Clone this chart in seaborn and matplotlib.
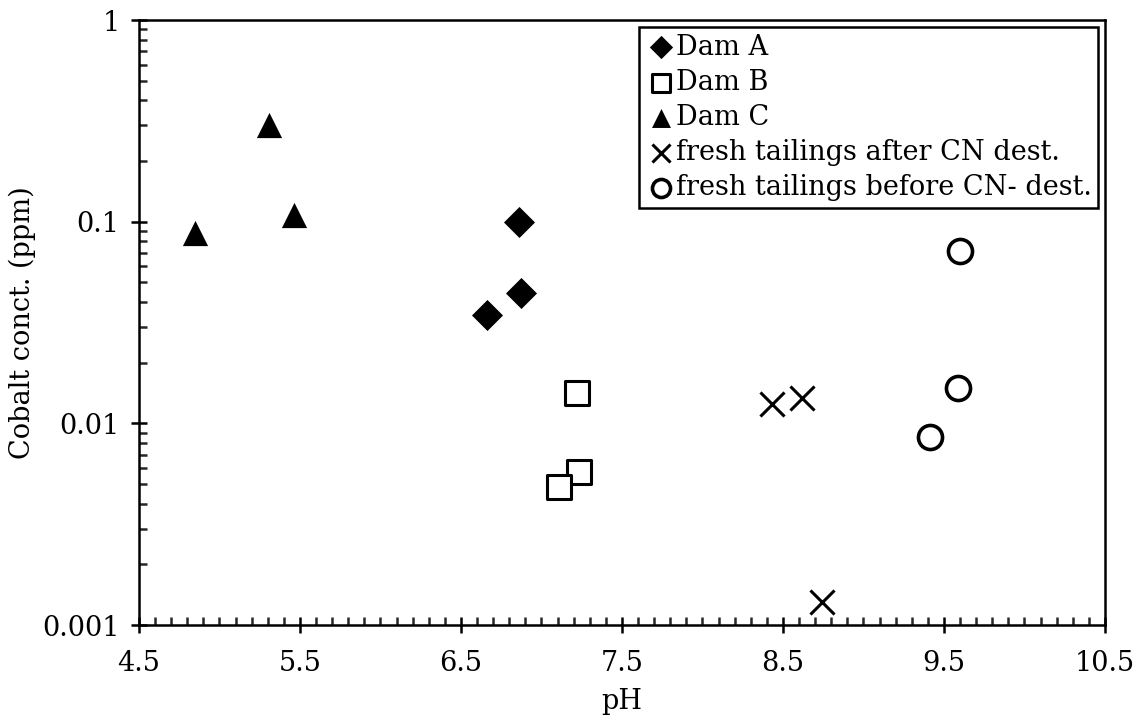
import matplotlib
matplotlib.use("Agg")
import matplotlib.pyplot as plt
import matplotlib.ticker as mticker
import seaborn as sns
import pandas as pd

sns.set_theme(style="white")
plt.rcParams["font.family"] = ["DejaVu Serif"]
plt.rcParams["text.color"] = "black"

# ----------------------------
# Data
# ----------------------------
dam_a_ph = [6.66, 6.86, 6.87]
dam_a_co = [0.0344, 0.0997, 0.0443]

dam_b_ph = [7.22, 7.23, 7.11]
dam_b_co = [0.01415, 0.00574, 0.00484]

dam_c_ph = [5.31, 5.46, 4.85]
dam_c_co = [0.302, 0.108, 0.0879]

after_ph = [8.43, 8.62, 8.74]
after_co = [0.01248, 0.01336, 0.0013]

before_ph = [9.59, 9.41, 9.60]
before_co = [0.0150, 0.00857, 0.0716]

series = [
    ("Dam A", dam_a_ph, dam_a_co),
    ("Dam B", dam_b_ph, dam_b_co),
    ("Dam C", dam_c_ph, dam_c_co),
    ("fresh tailings after CN dest.", after_ph, after_co),
    ("fresh tailings before CN- dest.", before_ph, before_co),
]

# marker styles per series
styles = {
    "Dam A": dict(marker="D", s=250, color="black", edgecolor="black", linewidth=0),
    "Dam B": dict(marker="s", s=300, facecolor="white", edgecolor="black", linewidth=2.2),
    "Dam C": dict(marker="^", s=330, color="black", edgecolor="black", linewidth=0),
    "fresh tailings after CN dest.": dict(marker="x", s=300, color="black", linewidth=2.2),
    "fresh tailings before CN- dest.": dict(marker="o", s=300, facecolor="white", edgecolor="black", linewidth=2.6),
}

FS = 19.5

# ----------------------------
# Plot
# ----------------------------
fig = plt.figure(figsize=(11.42, 7.23), dpi=100)
ax = fig.add_axes([0.1217, 0.1355, 0.8459, 0.8368])

for name, ph, co in series:
    df = pd.DataFrame({"pH": ph, "Co": co})
    sns.scatterplot(data=df, x="pH", y="Co", ax=ax, label=name, zorder=3, **styles[name])

ax.set_yscale("log")
ax.set_xlim(4.5, 10.5)
ax.set_ylim(0.001, 1)

ax.xaxis.set_major_locator(mticker.MultipleLocator(1.0, offset=0.5))
ax.xaxis.set_minor_locator(mticker.MultipleLocator(0.1))
ax.xaxis.set_major_formatter(mticker.FormatStrFormatter("%.1f"))
ax.yaxis.set_major_locator(mticker.LogLocator(base=10, numticks=10))
ax.yaxis.set_minor_locator(mticker.LogLocator(base=10, subs=range(2, 10), numticks=20))
ax.yaxis.set_major_formatter(mticker.FuncFormatter(lambda v, _: f"{v:g}"))
ax.yaxis.set_minor_formatter(mticker.NullFormatter())

ax.tick_params(which="major", direction="inout", length=12, width=1.8,
               labelsize=FS, colors="black", bottom=True, left=True, top=False, right=False)
ax.tick_params(axis="x", which="major", pad=12)
ax.tick_params(axis="y", which="major", pad=8)
ax.tick_params(which="minor", direction="in", length=6, width=1.8,
               bottom=True, left=True, top=False, right=False)

for sp in ax.spines.values():
    sp.set_color("black")
    sp.set_linewidth(1.8)

ax.set_xlabel("pH", fontsize=FS, color="black", labelpad=8)
ax.set_ylabel("Cobalt conct. (ppm)", fontsize=FS, color="black", labelpad=4)
ax.grid(False)

leg = ax.legend(loc="upper right", bbox_to_anchor=(1.0, 1.0), borderaxespad=0.25,
                fontsize=FS, frameon=True, fancybox=False, framealpha=1,
                handletextpad=0.0, handlelength=1.1, labelspacing=0.3,
                borderpad=0.25, markerscale=0.75)
leg.get_frame().set_edgecolor("black")
leg.get_frame().set_linewidth(1.8)
for t in leg.get_texts():
    t.set_color("black")

fig.savefig("out.png", dpi=100)
